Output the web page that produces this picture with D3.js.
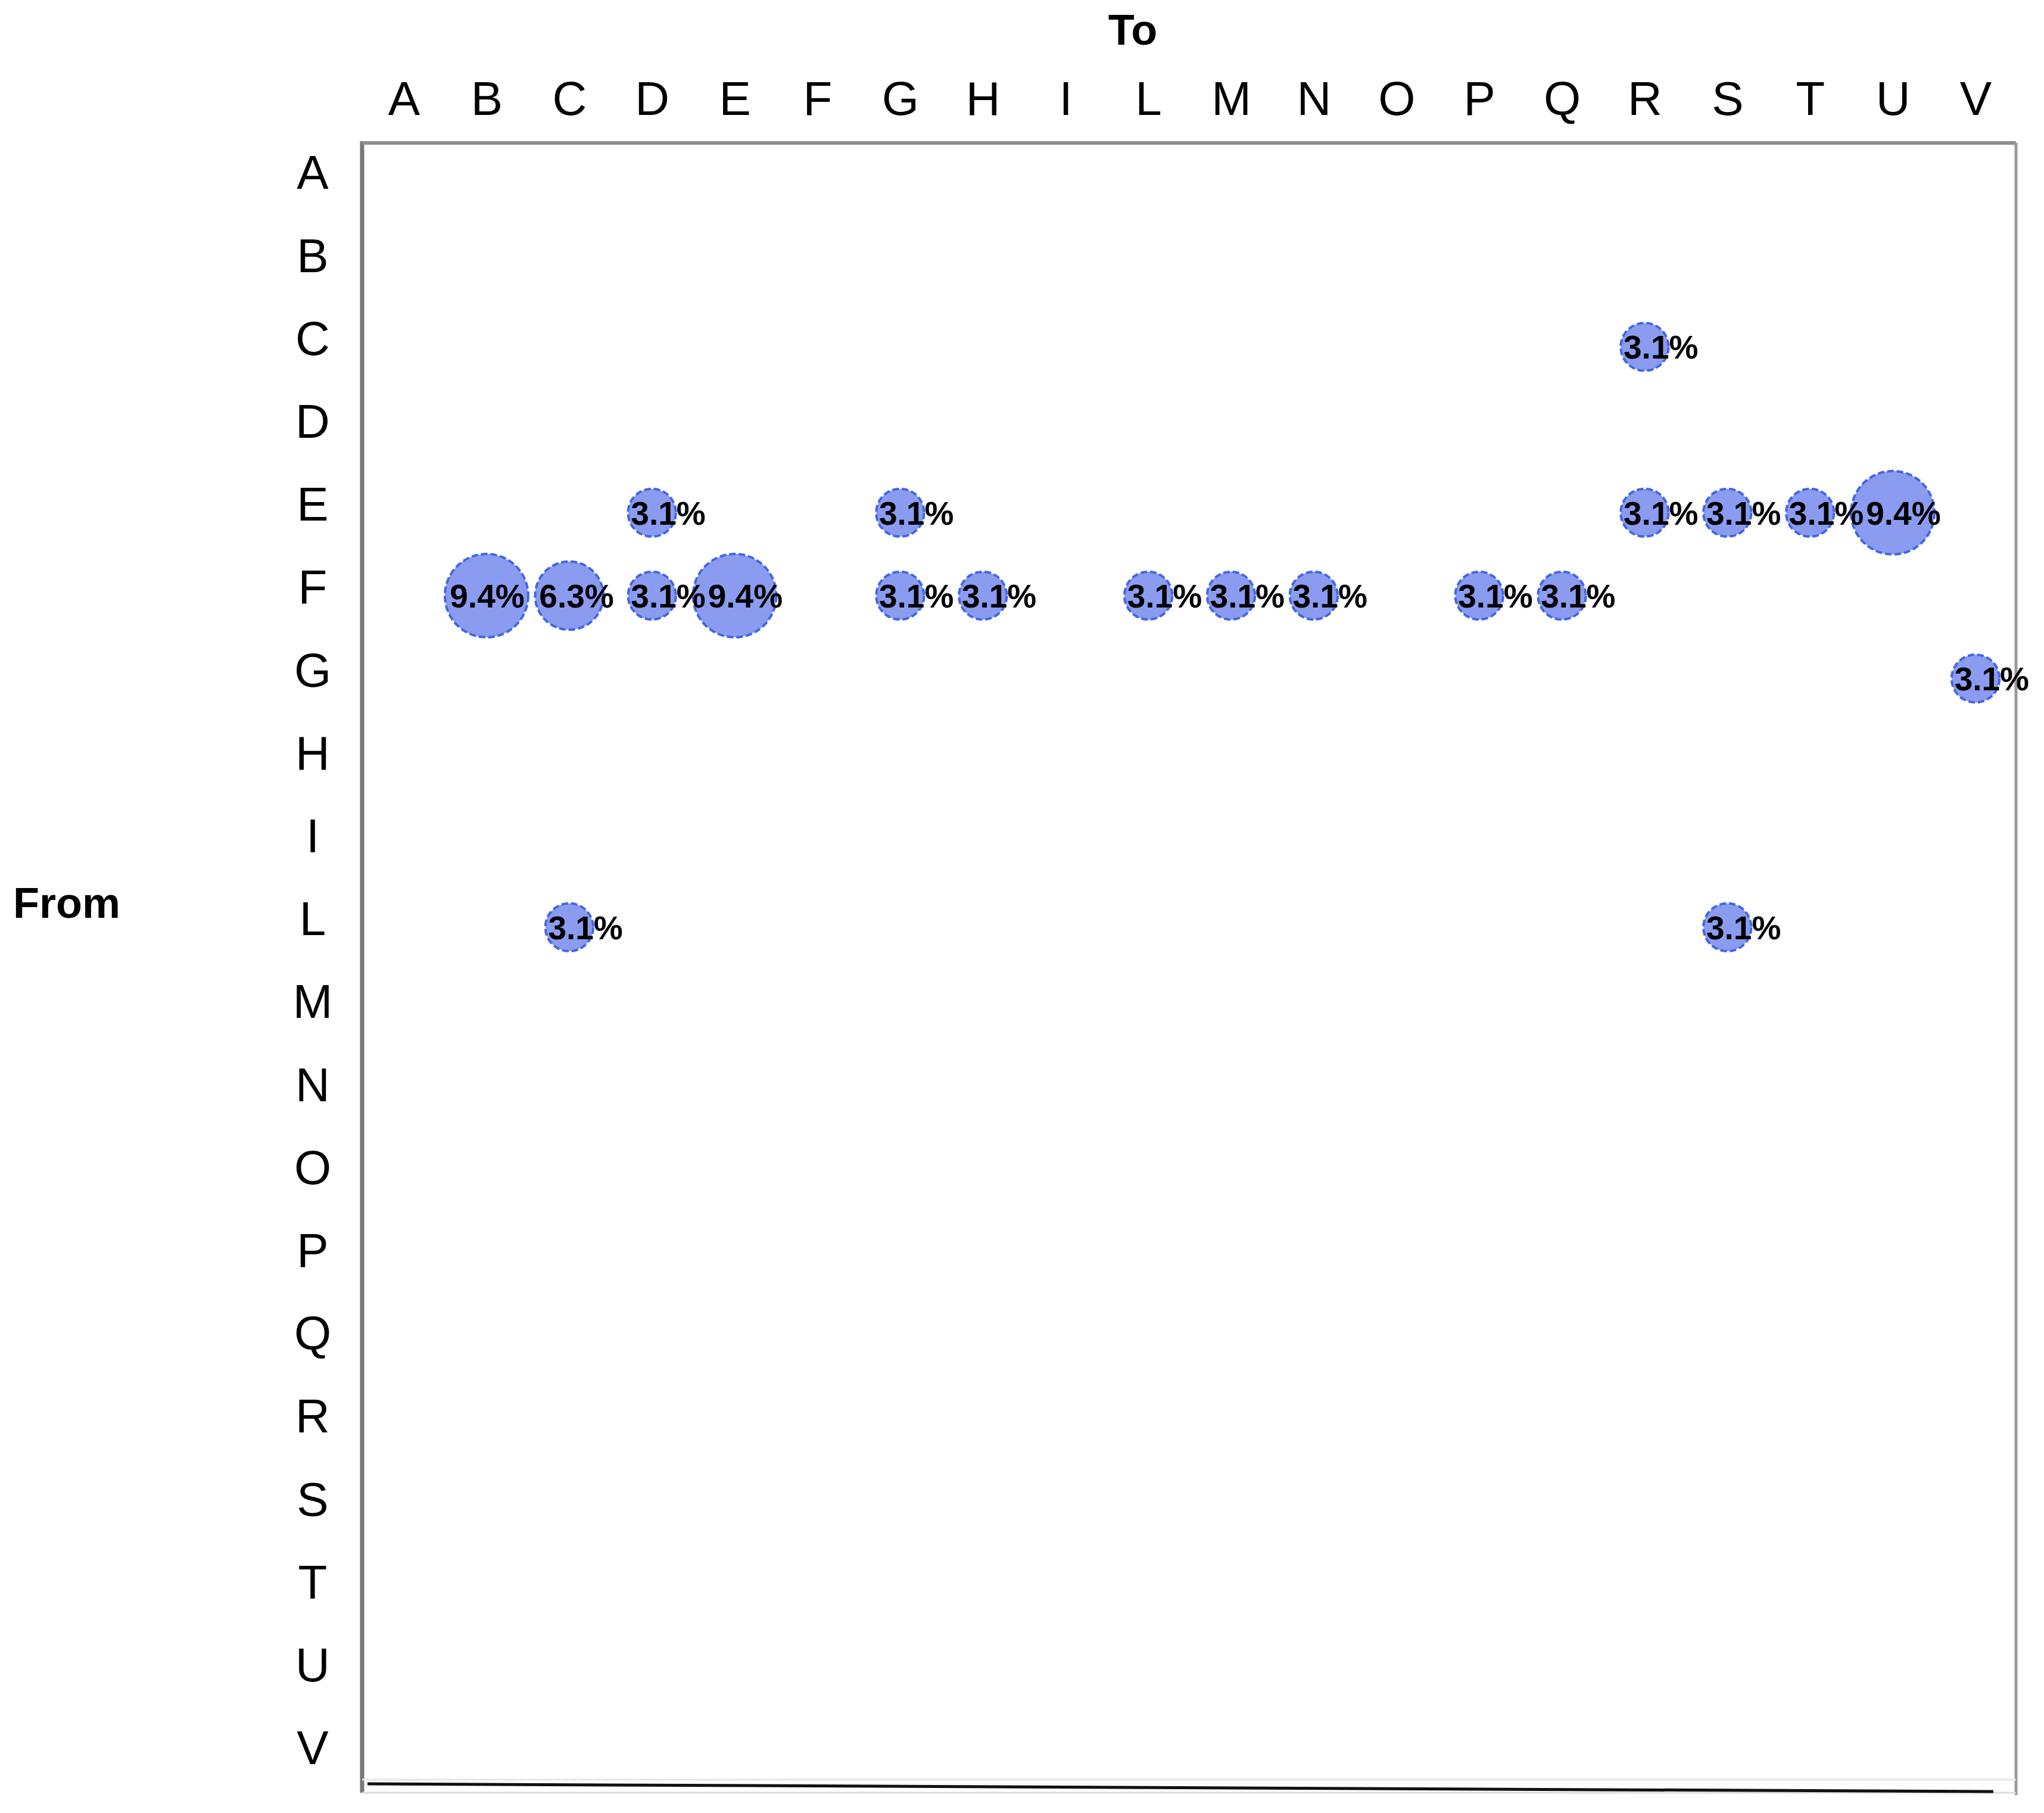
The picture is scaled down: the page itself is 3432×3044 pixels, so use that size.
<!DOCTYPE html>
<html>
<head>
<meta charset="utf-8">
<script src="https://cdn.jsdelivr.net/npm/d3@7"></script>
<style>
  body { margin: 0; background: #fff; }
  svg { display: block; font-family: "Liberation Sans", Arial, sans-serif; }
</style>
</head>
<body>
<div id="chart"></div>
<script>
// Categories on each axis (J and K are not in the study)
const fromLabels = ["A", "B", "C", "D", "E", "F", "G", "H", "I", "L", "M", "N", "O", "P", "Q", "R", "S", "T", "U", "V"];
const toLabels = ["A", "B", "C", "D", "E", "F", "G", "H", "I", "L", "M", "N", "O", "P", "Q", "R", "S", "T", "U", "V"];

// Transitions that were observed, in percent
const flowFrom = ["C", "E", "E", "E", "E", "E", "E", "F", "F", "F", "F", "F", "F", "F", "F", "F", "F", "F", "G", "L", "L"];
const flowTo = ["R", "D", "G", "R", "S", "T", "U", "B", "C", "D", "E", "G", "H", "L", "M", "N", "P", "Q", "V", "C", "S"];
const flowValue = [3.1, 3.1, 3.1, 3.1, 3.1, 3.1, 9.4, 9.4, 6.3, 3.1, 9.4, 3.1, 3.1, 3.1, 3.1, 3.1, 3.1, 3.1, 3.1, 3.1, 3.1];

/**
  Draws a from/to matrix where every cell is a bubble sized by its share.
*/
class BubbleMatrix {

  constructor(options) {
    const defaultOptions = {
      containerID: "#chart",
      width: 3432,
      height: 3044,
      box: { left: 608, top: 240, right: 3385, bottom: 3010 }, // the frame around the plot
      inner: { left: 70, top: 64, right: 68, bottom: 61 },     // first/last cell centre inside the frame
      maxRadius: 70,
      fill: "#8a9bf0",
      stroke: "#4466e4"
    };
    this.options = Object.assign({}, defaultOptions, options);
  }

  display() {
    const o = this.options;
    const box = o.box;

    const xScale = d3.scalePoint()
      .domain(toLabels)
      .range([box.left + o.inner.left, box.right - o.inner.right]);

    const yScale = d3.scalePoint()
      .domain(fromLabels)
      .range([box.top + o.inner.top, box.bottom - o.inner.bottom]);

    const rScale = d3.scaleSqrt()
      .domain([0, d3.max(flowValue)])
      .range([0, o.maxRadius]);

    const svg = d3.select(o.containerID)
      .append("svg")
        .attr("width", o.width)
        .attr("height", o.height);

    // Frame
    svg.append("line")
      .attr("x1", box.left).attr("y1", box.top - 3)
      .attr("x2", box.left).attr("y2", box.bottom)
      .style("stroke", "#777").style("stroke-width", 7);
    svg.append("line")
      .attr("x1", box.left).attr("y1", box.top)
      .attr("x2", box.right).attr("y2", box.top)
      .style("stroke", "#8e8e8e").style("stroke-width", 6);
    svg.append("line")
      .attr("x1", box.right).attr("y1", box.top)
      .attr("x2", box.right).attr("y2", box.bottom + 4)
      .style("stroke", "#9a9a9a").style("stroke-width", 5);
    svg.append("line")
      .attr("x1", box.left).attr("y1", box.bottom - 22)
      .attr("x2", box.right).attr("y2", box.bottom - 22)
      .style("stroke", "#e6e6e6").style("stroke-width", 3);
    svg.append("line")
      .attr("x1", box.left).attr("y1", box.bottom)
      .attr("x2", box.right).attr("y2", box.bottom)
      .style("stroke", "#dcdcdc").style("stroke-width", 3);
    // the bottom rule is drawn slightly askew in the original
    svg.append("line")
      .attr("x1", box.left + 9).attr("y1", box.bottom - 15)
      .attr("x2", box.right - 38).attr("y2", box.bottom - 2)
      .style("stroke", "#111").style("stroke-width", 5);

    // Top axis ("To")
    const xAxis = d3.axisTop(xScale).tickSize(0).tickPadding(47);
    const gx = svg.append("g")
      .attr("transform", "translate(0," + box.top + ")")
      .call(xAxis);
    gx.select(".domain").remove();
    gx.selectAll("text")
      .style("font-size", "80px")
      .style("font-family", "'Liberation Sans', Arial, sans-serif")
      .style("fill", "#000");

    // Left axis ("From")
    const yAxis = d3.axisLeft(yScale).tickSize(0);
    const gy = svg.append("g")
      .attr("transform", "translate(" + box.left + ",0)")
      .call(yAxis);
    gy.select(".domain").remove();
    gy.selectAll("text")
      .attr("x", -83)
      .attr("dy", "0.16em")
      .style("text-anchor", "middle")
      .style("font-size", "80px")
      .style("font-family", "'Liberation Sans', Arial, sans-serif")
      .style("fill", "#000");

    // Axis titles
    svg.append("text")
      .attr("x", 1902)
      .attr("y", 75)
      .style("text-anchor", "middle")
      .style("font-size", "72px")
      .style("font-weight", "bold")
      .text("To");

    svg.append("text")
      .attr("x", 22)
      .attr("y", 1541)
      .style("font-size", "72px")
      .style("font-weight", "bold")
      .text("From");

    const flows = flowValue.map((v, i) => ({ from: flowFrom[i], to: flowTo[i], value: v }));

    // Bubbles
    svg.append("g")
      .selectAll("circle")
      .data(flows)
      .enter().append("circle")
        .attr("cx", d => xScale(d.to))
        .attr("cy", d => yScale(d.from))
        .attr("r", d => rScale(d.value))
        .style("fill", o.fill)
        .style("stroke", o.stroke)
        .style("stroke-width", 4)
        .style("stroke-dasharray", "11,5");

    // Labels go on top of every bubble
    const labels = svg.append("g")
      .selectAll("text")
      .data(flows)
      .enter().append("text")
        .attr("x", d => xScale(d.to) - 0.88 * rScale(d.value))
        .attr("y", d => yScale(d.from))
        .attr("dy", "0.36em")
        .style("font-size", "55px")
        .style("font-weight", "bold")
        .style("fill", "#000")
        .text(d => d.value.toFixed(1) + "%");

    // Push a label to the right when it would run into its left neighbour
    const byRow = d3.group(labels.nodes(), n => d3.select(n).datum().from);
    byRow.forEach(nodes => {
      nodes.sort((a, b) => (+a.getAttribute("x")) - (+b.getAttribute("x")));
      let prevEnd = -Infinity;
      nodes.forEach(n => {
        let x = +n.getAttribute("x");
        if (x < prevEnd + 4) {
          x = prevEnd + 4;
          n.setAttribute("x", x);
        }
        prevEnd = x + n.getComputedTextLength();
      });
    });
  }
}

new BubbleMatrix({ containerID: "#chart" }).display();
</script>
</body>
</html>
